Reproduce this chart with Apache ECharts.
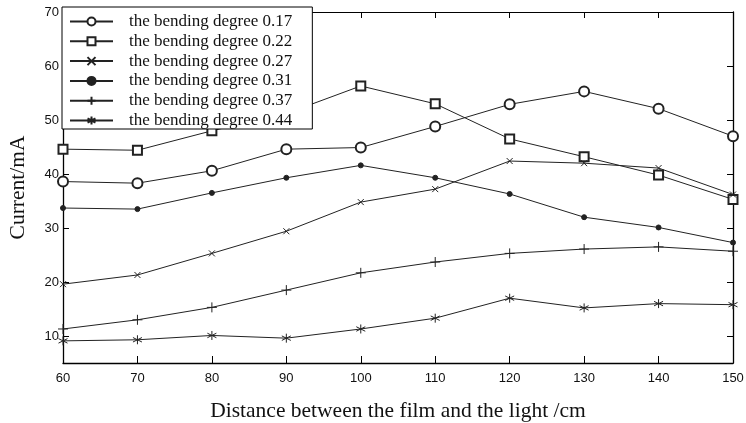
<!DOCTYPE html>
<html><head><meta charset="utf-8">
<script src="https://cdn.jsdelivr.net/npm/echarts@6/dist/echarts.min.js"></script>
<style>html,body{margin:0;padding:0;background:#fff}#c{width:746px;height:423px}</style>
</head><body><div id="c"></div>
<script>
const distances = [60, 70, 80, 90, 100, 110, 120, 130, 140, 150];
const seriesNames = ['the bending degree 0.17','the bending degree 0.22','the bending degree 0.27','the bending degree 0.31','the bending degree 0.37','the bending degree 0.44'];
const deg017 = [38.6, 38.3, 40.6, 44.6, 44.9, 48.8, 52.9, 55.3, 52.1, 47.0];
const deg022 = [44.6, 44.4, 48.0, 51.2, 56.3, 53.0, 46.5, 43.2, 39.8, 35.3];
const deg027 = [19.6, 21.3, 25.3, 29.4, 34.8, 37.2, 42.4, 42.0, 41.1, 36.2];
const deg031 = [33.7, 33.5, 36.5, 39.3, 41.6, 39.3, 36.3, 32.0, 30.1, 27.3];
const deg037 = [11.3, 13.0, 15.3, 18.5, 21.7, 23.7, 25.3, 26.1, 26.5, 25.7];
const deg044 = [9.1, 9.3, 10.1, 9.6, 11.3, 13.3, 17.0, 15.2, 16.0, 15.8];
const yTicks = [10, 20, 30, 40, 50, 60, 70];
const yRightTicks = [10, 20, 30, 40, 50, 60];
const xTicks = [60, 70, 80, 90, 100, 110, 120, 130, 140, 150];
const xTopTicks = [70, 80, 90, 100, 110, 120, 130, 140];

const allData = [deg017, deg022, deg027, deg031, deg037, deg044];
const symbols = [
  {symbol:'emptyCircle', size:10},
  {symbol:'emptyRect', size:9},
  {symbol:'path://M0 0L10 10M10 0L0 10', size:6},
  {symbol:'circle', size:5},
  {symbol:'path://M5 0L5 10M0 5L10 5', size:10},
  {symbol:'path://M5 0L5 10M0.7 2.5L9.3 7.5M0.7 7.5L9.3 2.5', size:9}
];
const lineColor = '#222';
const chart = echarts.init(document.getElementById('c'), null, {renderer:'canvas'});
const series = allData.map((d, i) => ({
  name: seriesNames[i],
  type: 'line',
  data: d.map((v, j) => [distances[j], v]),
  symbol: symbols[i].symbol,
  symbolSize: symbols[i].size,
  showAllSymbol: true,
  lineStyle: {color: lineColor, width: 1},
  itemStyle: {color: lineColor, borderColor: lineColor, borderWidth: 1},
  emphasis: {disabled: true},
  animation: false,
  z: 2
}));
chart.setOption({
  animation: false,
  backgroundColor: '#fff',
  grid: {left: 63, right: 13, top: 12, bottom: 60, containLabel: false, outerBoundsMode: 'none'},
  legend: {
    orient: 'vertical', left: 62, top: 7,
    backgroundColor: '#fff', borderColor: '#000', borderWidth: 1,
    padding: [6, 20, 0, 7],
    itemWidth: 43, itemHeight: 10, itemGap: 2.8,
    textStyle: {fontFamily: 'Liberation Serif', fontSize: 17, color: '#111', padding: [0, 0, 0, 11]},
    data: seriesNames,
    z: 10
  },
  xAxis: [{
    type: 'value', min: 60, max: 150, interval: 10,
    name: 'Distance between the film and the light /cm',
    nameLocation: 'middle', nameGap: 37,
    nameTextStyle: {fontFamily: 'Liberation Serif', fontSize: 21.5, color: '#111'},
    axisLine: {onZero: false, lineStyle: {color: '#000', width: 1.3}},
    axisTick: {inside: true, length: 7, lineStyle: {color: '#000'}},
    axisLabel: {fontFamily: 'Liberation Sans', fontSize: 13, color: '#111', margin: 9, customValues: xTicks},
    splitLine: {show: false}
  }, {
    type: 'value', min: 60, max: 150, position: 'top',
    axisLine: {onZero: false, lineStyle: {color: '#000', width: 1}},
    axisTick: {inside: true, length: 6, customValues: xTopTicks, lineStyle: {color: '#000'}},
    axisLabel: {show: false}, splitLine: {show: false}
  }],
  yAxis: [{
    type: 'value', min: 5, max: 70,
    name: 'Current/mA', nameLocation: 'middle', nameGap: 34, nameRotate: 90,
    nameTextStyle: {fontFamily: 'Liberation Serif', fontSize: 21.5, color: '#111'},
    axisLine: {onZero: false, lineStyle: {color: '#000', width: 1.3}},
    axisTick: {inside: true, length: 6, customValues: yTicks, lineStyle: {color: '#000'}},
    axisLabel: {fontFamily: 'Liberation Sans', fontSize: 13, color: '#111', margin: 4, customValues: yTicks},
    splitLine: {show: false}
  }, {
    type: 'value', min: 5, max: 70, position: 'right',
    axisLine: {onZero: false, lineStyle: {color: '#000', width: 1.3}},
    axisTick: {inside: true, length: 6, customValues: yRightTicks, lineStyle: {color: '#000'}},
    axisLabel: {show: false}, splitLine: {show: false}
  }],
  series: series
});
</script>
</body></html>
